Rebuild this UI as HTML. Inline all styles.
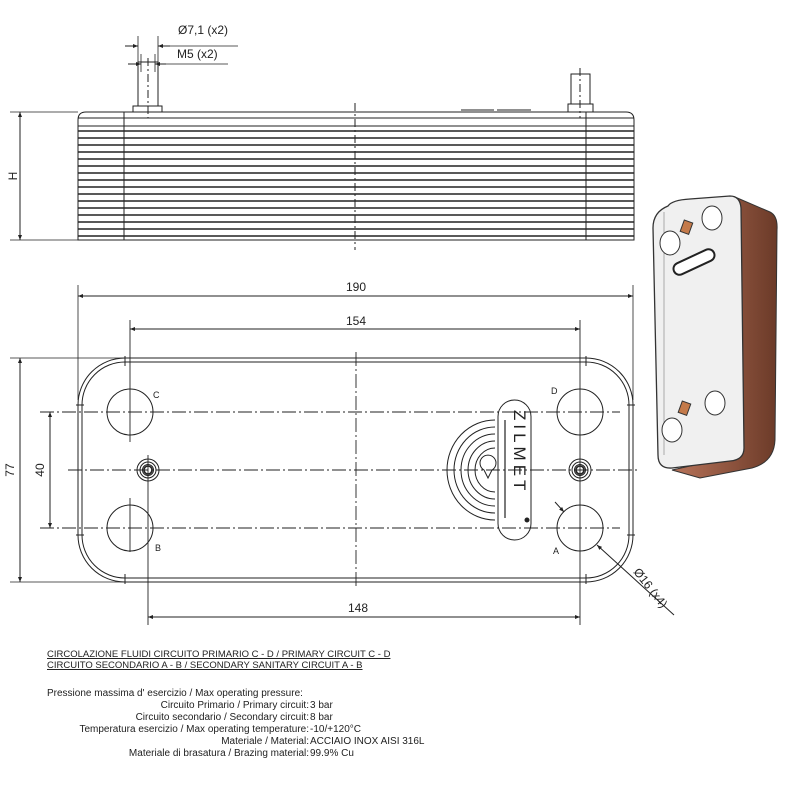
<!DOCTYPE html>
<html><head><meta charset="utf-8"><style>
body{margin:0;background:#fff;width:800px;height:800px;overflow:hidden;font-family:"Liberation Sans",sans-serif;}
.t{position:absolute;font-size:10px;color:#222;white-space:nowrap;}
</style></head><body>
<svg width="800" height="800" style="position:absolute;left:0;top:0" font-family="Liberation Sans, sans-serif">
<defs>
<marker id="a" viewBox="0 0 10 10" refX="10" refY="5" markerWidth="7" markerHeight="5" orient="auto-start-reverse"><path d="M0,1L10,5L0,9z" fill="#222"/></marker>
<linearGradient id="cu" x1="0" x2="1"><stop offset="0" stop-color="#b8745a"/><stop offset="1" stop-color="#6b3a28"/></linearGradient>
</defs>
<g stroke="#222" fill="none" stroke-width="1">
<rect x="133" y="106" width="29" height="6"/>
<rect x="138" y="62" width="20" height="44"/>
<rect x="568" y="104" width="25" height="8"/>
<rect x="571" y="74" width="19" height="30"/>
<line x1="148" y1="58" x2="148" y2="118" stroke-dasharray="8,3,2,3"/>
<line x1="580" y1="68" x2="580" y2="118" stroke-dasharray="8,3,2,3"/>
<path d="M78,240 V120 Q78,112 86,112 H626 Q634,112 634,120 V240 Z"/>
<line x1="78" y1="118" x2="634" y2="118"/>
<line x1="78" y1="126" x2="634" y2="126"/>
<g stroke-width="1.4">
<line x1="78" y1="131" x2="634" y2="131"/><line x1="78" y1="138" x2="634" y2="138"/><line x1="78" y1="145" x2="634" y2="145"/><line x1="78" y1="152" x2="634" y2="152"/><line x1="78" y1="159" x2="634" y2="159"/><line x1="78" y1="166" x2="634" y2="166"/><line x1="78" y1="173" x2="634" y2="173"/><line x1="78" y1="180" x2="634" y2="180"/><line x1="78" y1="187" x2="634" y2="187"/><line x1="78" y1="194" x2="634" y2="194"/><line x1="78" y1="201" x2="634" y2="201"/><line x1="78" y1="208" x2="634" y2="208"/><line x1="78" y1="215" x2="634" y2="215"/><line x1="78" y1="222" x2="634" y2="222"/><line x1="78" y1="229" x2="634" y2="229"/><line x1="78" y1="236" x2="634" y2="236"/>
</g>
<line x1="124" y1="112" x2="124" y2="240"/><line x1="586" y1="112" x2="586" y2="240"/>
<line x1="461" y1="110" x2="494" y2="110"/><line x1="497" y1="110" x2="531" y2="110"/>
<line x1="355" y1="103" x2="355" y2="250" stroke-dasharray="8,3,2,3"/>
<line x1="138" y1="36" x2="138" y2="62" stroke-width="0.8"/><line x1="158" y1="36" x2="158" y2="62" stroke-width="0.8"/>
<line x1="125" y1="46" x2="138" y2="46" marker-end="url(#a)"/><line x1="170" y1="46" x2="158" y2="46" marker-end="url(#a)"/><line x1="158" y1="46" x2="238" y2="46" stroke-width="0.8"/>
<line x1="141" y1="54" x2="141" y2="72" stroke-width="0.8"/><line x1="155" y1="54" x2="155" y2="72" stroke-width="0.8"/>
<line x1="128" y1="64" x2="141" y2="64" marker-end="url(#a)"/><line x1="166" y1="64" x2="155" y2="64" marker-end="url(#a)"/><line x1="155" y1="64" x2="228" y2="64" stroke-width="0.8"/>
<line x1="10" y1="112" x2="78" y2="112" stroke-width="0.8"/><line x1="10" y1="240" x2="78" y2="240" stroke-width="0.8"/>
<line x1="20" y1="112" x2="20" y2="240" marker-start="url(#a)" marker-end="url(#a)"/>
<path d="M125,358 H586 A47,47 0 0 1 633,405 V535 A47,47 0 0 1 586,582 H125 A47,47 0 0 1 78,535 V405 A47,47 0 0 1 125,358 Z"/>
<path d="M125,362 H586 A43,43 0 0 1 629,405 V535 A43,43 0 0 1 586,578 H125 A43,43 0 0 1 82,535 V405 A43,43 0 0 1 125,362 Z"/>
<line x1="125" y1="356" x2="125" y2="366"/><line x1="586" y1="356" x2="586" y2="366"/><line x1="125" y1="574" x2="125" y2="584"/><line x1="586" y1="574" x2="586" y2="584"/>
<line x1="76" y1="405" x2="84" y2="405"/><line x1="627" y1="405" x2="635" y2="405"/><line x1="76" y1="535" x2="84" y2="535"/><line x1="627" y1="535" x2="635" y2="535"/>
<circle cx="130" cy="412" r="23"/><circle cx="580" cy="412" r="23"/><circle cx="130" cy="528" r="23"/><circle cx="580" cy="528" r="23"/>
<circle cx="148" cy="470" r="11"/><circle cx="148" cy="470" r="8"/><circle cx="148" cy="470" r="5.5"/><circle cx="148" cy="470" r="4" stroke-width="1.6"/>
<circle cx="580" cy="470" r="11"/><circle cx="580" cy="470" r="8"/><circle cx="580" cy="470" r="5.5"/><circle cx="580" cy="470" r="4" stroke-width="1.6"/>
<g stroke-dasharray="14,3,2,3" stroke-width="0.9">
<line x1="40" y1="412" x2="620" y2="412"/><line x1="40" y1="528" x2="620" y2="528"/><line x1="68" y1="470" x2="640" y2="470"/>
<line x1="356" y1="352" x2="356" y2="588"/>
</g>
<line x1="130" y1="320" x2="130" y2="442" stroke-width="0.9"/><line x1="130" y1="498" x2="130" y2="552" stroke-width="0.9"/>
<line x1="580" y1="320" x2="580" y2="625" stroke-width="0.9"/>
<line x1="148" y1="455" x2="148" y2="625" stroke-width="0.9"/>
<line x1="78" y1="285" x2="78" y2="400" stroke-width="0.8"/><line x1="633" y1="285" x2="633" y2="400" stroke-width="0.8"/>
<line x1="78" y1="296" x2="633" y2="296" marker-start="url(#a)" marker-end="url(#a)"/>
<line x1="130" y1="329" x2="580" y2="329" marker-start="url(#a)" marker-end="url(#a)"/>
<line x1="148" y1="617" x2="580" y2="617" marker-start="url(#a)" marker-end="url(#a)"/>
<line x1="10" y1="358" x2="125" y2="358" stroke-width="0.8"/><line x1="10" y1="582" x2="125" y2="582" stroke-width="0.8"/>
<line x1="20" y1="358" x2="20" y2="582" marker-start="url(#a)" marker-end="url(#a)"/>
<line x1="50" y1="412" x2="50" y2="528" marker-start="url(#a)" marker-end="url(#a)"/>
<line x1="555" y1="502" x2="564" y2="512" marker-end="url(#a)"/>
<line x1="674" y1="615" x2="597" y2="545" marker-end="url(#a)"/>
<rect x="498" y="400" width="33" height="140" rx="16.5"/>
<g stroke-width="1">
<path d="M495,420 A48,50 0 0 0 495,520"/><path d="M495,427 A41,43 0 0 0 495,513"/><path d="M495,434 A34,36 0 0 0 495,506"/><path d="M495,441 A27,29 0 0 0 495,499"/><path d="M495,448 A20,22 0 0 0 495,492"/>
<path d="M484,470 A8,8 0 1 1 492,470 L488,478 Z"/>
</g>
<line x1="505" y1="420" x2="505" y2="518" stroke-width="1.2"/>
<circle cx="527" cy="520" r="2" fill="#222"/>
</g>
<text x="519" y="410" font-size="17" fill="#222" transform="rotate(90 519 410)" letter-spacing="4" text-anchor="start" dy="5">ZILMET</text>
<g font-size="12" fill="#222">
<text x="178" y="34">Ø7,1 (x2)</text>
<text x="177" y="58">M5 (x2)</text>
<text x="17" y="176" transform="rotate(-90 17 176)" text-anchor="middle">H</text>
<text x="356" y="291" text-anchor="middle">190</text>
<text x="356" y="325" text-anchor="middle">154</text>
<text x="358" y="612" text-anchor="middle">148</text>
<text x="14" y="470" transform="rotate(-90 14 470)" text-anchor="middle">77</text>
<text x="44" y="470" transform="rotate(-90 44 470)" text-anchor="middle">40</text>
<text x="633" y="572" transform="rotate(52 633 572)">Ø16 (x4)</text>
</g>
<g font-size="9" fill="#222"><text x="153" y="398">C</text><text x="551" y="394">D</text><text x="155" y="551">B</text><text x="553" y="554">A</text></g>
<!-- photo -->
<path d="M735,197 L770,212 Q778,216 777,230 L775,440 Q774,462 752,468 L700,478 L672,470 L740,455 Z" fill="url(#cu)" stroke="#333"/>
<path d="M668,206 Q672,200 690,199 L730,196 Q740,196 741,208 L744,448 Q744,460 730,461 L672,468 Q658,469 658,455 L653,228 Q653,212 668,206 Z" fill="#f0f0f0" stroke="#333" stroke-width="1.3"/>
<path d="M664,212 L664,455" stroke="#aaa" fill="none"/>
<ellipse cx="712" cy="218" rx="10" ry="12" fill="#fff" stroke="#333"/>
<ellipse cx="670" cy="243" rx="10" ry="12" fill="#fff" stroke="#333"/>
<ellipse cx="715" cy="403" rx="10" ry="12" fill="#fff" stroke="#333"/>
<ellipse cx="672" cy="430" rx="10" ry="12" fill="#fff" stroke="#333"/>
<rect x="682" y="221" width="9" height="12" fill="#c47a4a" stroke="#333" transform="rotate(20 686 227)"/>
<rect x="680" y="402" width="9" height="12" fill="#c47a4a" stroke="#333" transform="rotate(20 684 408)"/>
<rect x="672" y="256" width="44" height="12" rx="6" fill="#fff" stroke="#222" stroke-width="2" transform="rotate(-25 694 262)"/>
</svg>
<div class="t" style="left:47px;top:649px;text-decoration:underline;font-size:9.5px">CIRCOLAZIONE FLUIDI CIRCUITO PRIMARIO C - D / PRIMARY CIRCUIT C - D</div>
<div class="t" style="left:47px;top:660px;text-decoration:underline;font-size:9.5px">CIRCUITO SECONDARIO A - B / SECONDARY SANITARY CIRCUIT A - B</div>
<div class="t" style="left:47px;top:688px">Pressione massima d' esercizio / Max operating pressure:</div>
<div class="t" style="right:491px;top:700px">Circuito Primario / Primary circuit:</div><div class="t" style="left:310px;top:700px">3 bar</div>
<div class="t" style="right:491px;top:712px">Circuito secondario / Secondary circuit:</div><div class="t" style="left:310px;top:712px">8 bar</div>
<div class="t" style="right:491px;top:724px">Temperatura esercizio / Max operating temperature:</div><div class="t" style="left:310px;top:724px">-10/+120°C</div>
<div class="t" style="right:491px;top:736px">Materiale / Material:</div><div class="t" style="left:310px;top:736px">ACCIAIO INOX AISI 316L</div>
<div class="t" style="right:491px;top:748px">Materiale di brasatura / Brazing material:</div><div class="t" style="left:310px;top:748px">99.9% Cu</div>
</body></html>
